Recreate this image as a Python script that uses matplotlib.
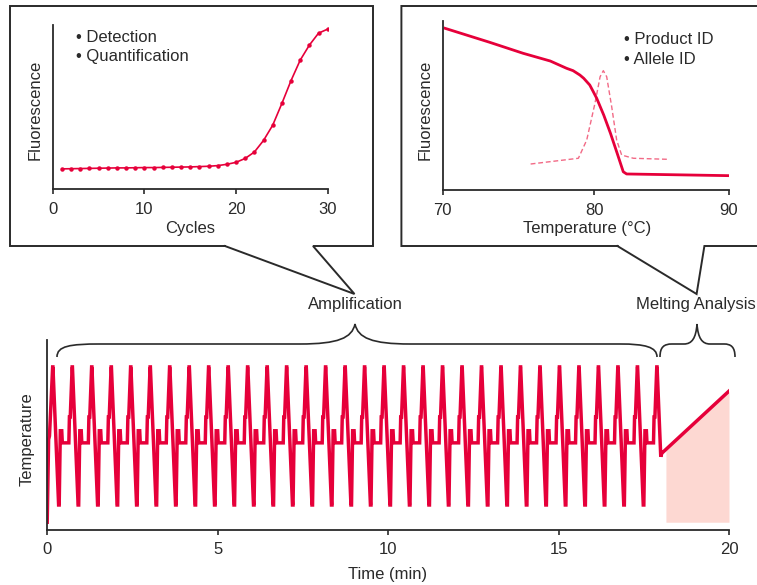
import numpy as np
import matplotlib
matplotlib.use("Agg")
import matplotlib.pyplot as plt
from matplotlib.path import Path
from matplotlib.patches import PathPatch
from matplotlib.ticker import NullLocator

plt.rcParams['font.family'] = ['Liberation Sans', 'DejaVu Sans']

RED = '#e6003a'
DASH_RED = '#f26a86'
FILL = '#fdd8d2'
INK = '#2a2a2a'

# ---- real-time amplification (fluorescence per cycle) ----
cycles = np.arange(1, 31)
amp_fluor = [12.0, 12.1, 12.2, 12.3, 12.4, 12.5, 12.6, 12.6, 12.7, 12.8,
             12.8, 12.9, 13.0, 13.1, 13.2, 13.4, 13.6, 14.0, 14.8, 16.0,
             18.4, 22.3, 29.4, 38.7, 52.0, 66.0, 78.5, 87.7, 95.0, 97.5]
amp_ticks = [0, 10, 20, 30]

# ---- melting curve and its negative derivative ----
melt_temp = [70.15, 73.1, 75.3, 77.1, 78.17, 78.6, 79.05, 79.3, 79.7, 79.93,
             80.18, 80.7, 81.2, 81.7, 82.15, 82.4, 90.0]
melt_fluor = [95.5, 87.2, 80.7, 76.1, 71.8, 70.4, 67.8, 65.9, 61.9, 58.0,
              54.0, 44.1, 33.3, 21.4, 10.5, 9.2, 8.2]
deriv_temp = [75.8, 78.95, 79.5, 80.05, 80.43, 80.67, 80.92, 81.29, 81.66,
              82.03, 82.9, 85.4]
deriv_fluor = [15.1, 18.5, 29.3, 51.1, 66.8, 70.4, 66.8, 49.1, 29.3, 20.4,
               18.5, 17.9]
melt_ticks = [70, 80, 90]

# ---- thermal cycling protocol (seconds, deg C) ----
lead_in_s = [0.0, 2.5, 4.0, 6.0]
lead_in_c = [50, 74, 75, 82]
first_peak_s = 9.6
cycle_period_s = 34.3
n_cycles = 32
cycle_s = [0.0, 0.5, 10.5, 11.5, 13.5, 16.0, 17.0, 28.5, 29.5, 31.0]
cycle_c = [95, 95, 55, 55, 76.5, 76.5, 73, 73, 80.5, 80.5]
cooldown_s = [7.0]
cooldown_c = [69]
melt_ramp_min = [18.03, 20.0]
melt_ramp_c = [70, 88]
melt_fill_start_min = 18.15
fill_floor_c = 50
time_ticks = [0, 5, 10, 15, 20]

# assemble the temperature trace
t_s = list(lead_in_s)
temp = list(lead_in_c)
for k in range(n_cycles):
    base = first_peak_s + k * cycle_period_s
    if k < n_cycles - 1:
        t_s += [base + s for s in cycle_s]
        temp += cycle_c
    else:
        t_s += [base + s for s in cycle_s[:2]]
        temp += cycle_c[:2]
        t_s += [base + s for s in cooldown_s]
        temp += cooldown_c
t_min = [s / 60.0 for s in t_s] + melt_ramp_min
temp = temp + melt_ramp_c

W, H = 757, 585
fig = plt.figure(figsize=(W / 100, H / 100), dpi=100)


def px_axes(left, top, right, bottom):
    return fig.add_axes([left / W, 1 - bottom / H, (right - left) / W, (bottom - top) / H])


def style(ax, pad):
    for side in ('top', 'right'):
        ax.spines[side].set_visible(False)
    for side in ('left', 'bottom'):
        ax.spines[side].set_color(INK)
        ax.spines[side].set_linewidth(1.3)
    ax.set_yticks([])
    ax.tick_params(axis='x', direction='out', length=3.8, width=1.2,
                   color=INK, labelcolor=INK, labelsize=12, pad=pad)
    ax.set_facecolor('none')


# amplification panel
ax1 = px_axes(52.7, 25, 327.7, 188.5)
ax1.plot(cycles, amp_fluor, color=RED, lw=1.2, marker='o', ms=2.2, mec=RED, mfc=RED)
ax1.set_xlim(0, 30)
ax1.set_ylim(0, 100)
ax1.set_xticks(amp_ticks)
style(ax1, 6)

# melting panel (temperature axis compressed above 80 C)
k_hi = 0.8885


def fwd(x):
    x = np.asarray(x, dtype=float)
    return np.where(x <= 80, x, 80 + (x - 80) * k_hi)


def inv(y):
    y = np.asarray(y, dtype=float)
    return np.where(y <= 80, y, 80 + (y - 80) / k_hi)


ax2 = px_axes(442.7, 20.7, 729, 189.5)
ax2.set_xscale('function', functions=(fwd, inv))
ax2.plot(deriv_temp, deriv_fluor, color=DASH_RED, lw=1.0, dashes=(3.5, 2))
ax2.plot(melt_temp, melt_fluor, color=RED, lw=2.0)
ax2.set_xlim(70, 90)
ax2.set_ylim(0, 100)
ax2.set_xticks(melt_ticks)
ax2.set_xticklabels([str(v) for v in melt_ticks])
ax2.xaxis.set_minor_locator(NullLocator())
style(ax2, 6)

# thermal profile panel
ax3 = px_axes(47.2, 340, 729, 530)
tf = np.linspace(melt_fill_start_min, melt_ramp_min[1], 50)
ax3.fill_between(tf, fill_floor_c, np.interp(tf, melt_ramp_min, melt_ramp_c),
                 color=FILL, lw=0)
ax3.plot(t_min, temp, color=RED, lw=2.5, solid_joinstyle='miter')
ax3.set_xlim(0, 20)
ax3.set_ylim(47.75, 102.8)
ax3.set_xticks(time_ticks)
style(ax3, 4.5)

# overlay for callouts, braces and labels (pixel coordinates)
ov = fig.add_axes([0, 0, 1, 1], zorder=10)
ov.set_xlim(0, W)
ov.set_ylim(H, 0)
ov.axis('off')
ov.patch.set_visible(False)

box_kw = dict(color=INK, lw=1.4, solid_joinstyle='miter')
ov.plot([224.9, 10, 10, 373, 373, 313, 354.5, 224.9],
        [246, 246, 6, 6, 246, 246, 294, 246], **box_kw)
ov.plot([617.4, 401.4, 401.4, 765, 765, 704.4, 696.6, 617.4],
        [246, 246, 6, 6, 246, 246, 294, 246], **box_kw)


def brace(verts):
    codes = [Path.MOVETO]
    for _ in range((len(verts) - 1) // 3):
        codes += [Path.CURVE4] * 3
    ov.add_patch(PathPatch(Path(verts, codes), fill=False, ec=INK, lw=1.2))


brace([(57, 357), (57, 346), (70, 344), (100, 344),
       (180, 344), (260, 344), (300, 344),
       (338, 344), (352, 338), (355, 324),
       (358, 338), (372, 344), (410, 344),
       (480, 344), (560, 344), (620, 344),
       (645, 344), (657, 347), (657, 357)])
brace([(660, 357), (660, 347), (664, 344), (672, 344),
       (677, 344), (681, 344), (684, 344),
       (692, 344), (696, 338), (697, 324),
       (698, 338), (702, 344), (710, 344),
       (715, 344), (719, 344), (724, 344),
       (731, 344), (735, 347), (735, 357)])

txt = dict(color=INK, fontsize=12, ha='center', va='center')
ov.text(355, 305, 'Amplification', **txt)
ov.text(696, 305, 'Melting Analysis', **txt)
ov.text(35, 110, 'Fluorescence', rotation=90, **txt)
ov.text(425, 110, 'Fluorescence', rotation=90, **txt)
ov.text(190, 228, 'Cycles', **txt)
ov.text(587, 228, 'Temperature (°C)', **txt)
ov.text(27, 439, 'Temperature', rotation=90, **txt)
ov.text(388, 575, 'Time (min)', **txt)

left_txt = dict(color=INK, fontsize=12, ha='left', va='center')
ov.text(76, 37, '• Detection', **left_txt)
ov.text(76, 56, '• Quantification', **left_txt)
ov.text(624, 40, '• Product ID', **left_txt)
ov.text(624, 59, '• Allele ID', **left_txt)

fig.savefig('out.png', dpi=100)
